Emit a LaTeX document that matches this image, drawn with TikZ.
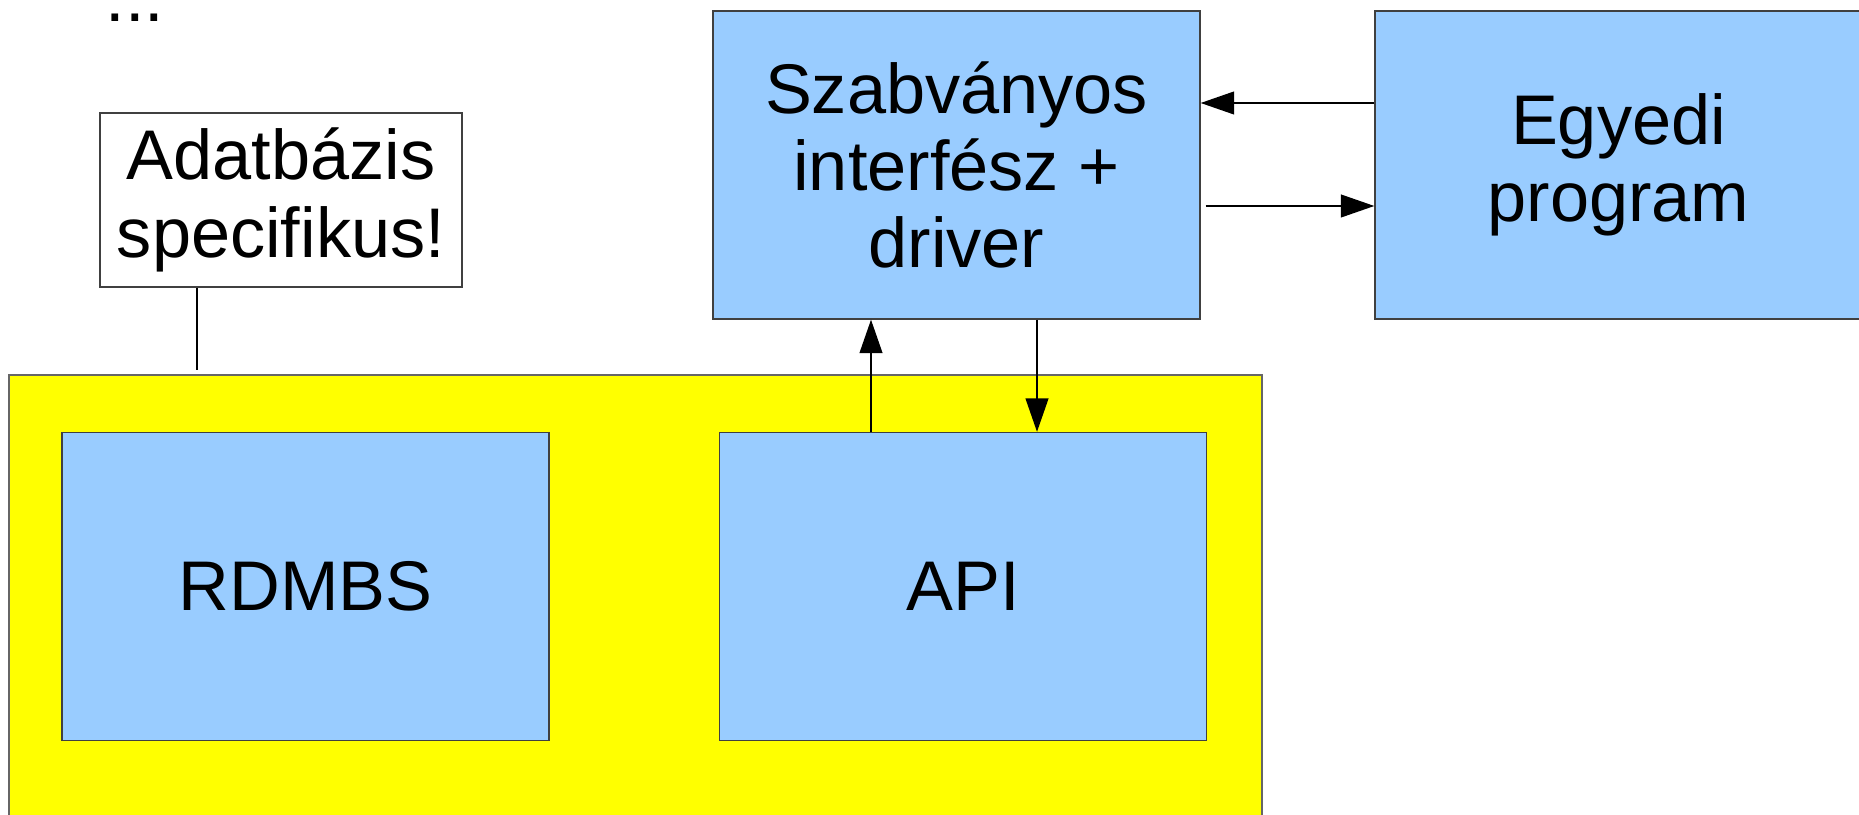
\documentclass[tikz,border=0pt]{standalone}
\usepackage{fontspec}
\setmainfont{Liberation Sans}
\usetikzlibrary{arrows.meta,calc,positioning}
\definecolor{lightblue}{HTML}{99CCFF}
\definecolor{layeryellow}{HTML}{FFFF00}

\begin{document}
\begin{tikzpicture}[
    font=\fontsize{20}{22}\selectfont,
    block/.style={draw=black!75, line width=0.4pt, rectangle, fill=lightblue, minimum width=4.87cm, minimum height=3.08cm, inner sep=0pt, align=center},
    note/.style={draw=black!75, line width=0.4pt, rectangle, fill=white, minimum width=3.62cm, minimum height=1.74cm, inner sep=0pt, align=center},
    layer/.style={draw=black!60, line width=0.4pt, rectangle, fill=layeryellow, minimum width=12.53cm, minimum height=4.6cm, inner sep=0pt},
    arr/.style={-{Triangle[length=9.5pt,width=6.5pt]}, line width=0.4pt},
    link/.style={line width=0.4pt}
]
\useasboundingbox (0,0) rectangle (18.59,8.14);

% Database layer
\node[layer] (db) at (6.355,2.09) {};
\node[block] (rdmbs) at (3.055,2.275) {RDMBS};
\node[block] (api) at (9.63,2.275) {API};

% Upper row
\node[block] (szab) at (9.565,6.49) {Szabványos\\interfész +\\driver};
\node[block] (egyedi) at (16.185,6.49) {Egyedi\\program};

% Note
\node[note] (note) at (2.81,6.14) {Adatbázis\\specifikus!};
\node[anchor=base] (dots) at (1.35,7.92) {...};

% Connections
\coordinate (notefoot) at ([xshift=-8.4mm]note.south);
\draw[link] (notefoot) -- ([yshift=0.4mm]notefoot |- db.north);

\draw[arr] ([yshift=6.2mm]egyedi.west) -- ([yshift=6.2mm]szab.east);
\draw[arr] ([xshift=0.5mm,yshift=-4.1mm]szab.east) -- ([yshift=-4.1mm]egyedi.west);

\coordinate (upfoot) at ([xshift=-9.2mm]api.north);
\coordinate (downfoot) at ([xshift=7.4mm]api.north);
\draw[arr] (upfoot) -- (upfoot |- szab.south);
\draw[arr] (downfoot |- szab.south) -- (downfoot);

\end{tikzpicture}
\end{document}
